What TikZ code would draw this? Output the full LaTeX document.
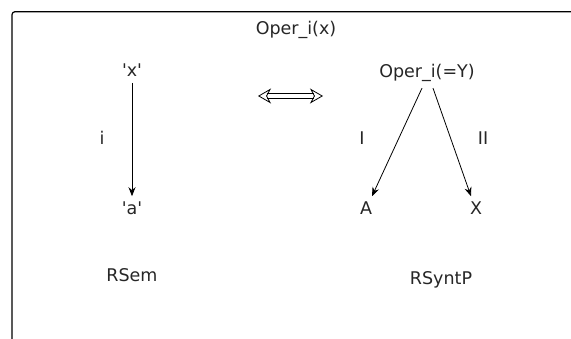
\documentclass[tikz,border=0pt]{standalone}
\usepackage{fontspec}
\setmainfont{DejaVu Sans}
\usetikzlibrary{arrows.meta}

\begin{document}
\begin{tikzpicture}[x=1pt,y=1pt,
    lbl/.style={font=\fontsize{17.5}{20}\selectfont, text=black!85, anchor=base, inner sep=0pt, outer sep=6pt},
    link/.style={-{Stealth[length=9pt,width=7pt]}, line width=0.8pt},
    equiv/.style={double, double distance=3.5pt, line width=0.8pt,
      {Stealth[open, length=13pt, width=15pt, inset=4pt, line width=0.8pt]}-{Stealth[open, length=13pt, width=15pt, inset=4pt, line width=0.8pt]}}]
    \useasboundingbox (0,0) rectangle (571,339);

    % Frame
    \draw[line width=1.2pt, rounded corners=3pt] (12,0) -- (12,327.3) -- (571,327.3);

    % Title
    \node[lbl] (title) at (296,304) {Oper\_i(x)};

    % Semantic side
    \node[lbl] (x) at (132,262) {\textquotesingle x\textquotesingle};
    \node[lbl] (a) at (132,124) {\textquotesingle a\textquotesingle};
    \node[lbl] (i) at (102,194) {i};
    \node[lbl] (rsem) at (132,57) {RSem};
    \draw[link] (x.south) -- (a.north);

    % Equivalence
    \coordinate (eqL) at (258,243);
    \coordinate (eqR) at (323,243);
    \draw[equiv] (eqL) -- (eqR);

    % Syntactic side
    \node[lbl] (oper) at (427,261) {Oper\_i(=Y)};
    \node[lbl] (A) at (366,124) {A};
    \node[lbl] (X) at (476,124) {X};
    \node[lbl] (I) at (362,194) {I};
    \node[lbl] (II) at (483,194) {II};
    \node[lbl] (rsyntp) at (441,54) {RSyntP};
    \draw[link] ([xshift=-5pt]oper.south) -- ([xshift=6pt]A.north);
    \draw[link] ([xshift=6pt]oper.south) -- ([xshift=-5pt]X.north);
\end{tikzpicture}
\end{document}
